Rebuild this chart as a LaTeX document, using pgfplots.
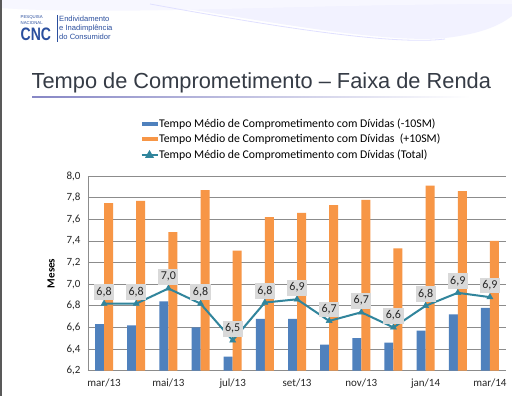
\documentclass[border=0pt]{standalone}
\usepackage{pgfplots}
\pgfplotsset{compat=1.18}
\usepackage{fontspec}
\setmainfont{Carlito}
\newfontfamily\arial{Liberation Sans}
\definecolor{cblue}{HTML}{4F81BD}
\definecolor{corange}{HTML}{F79646}
\definecolor{cteal}{HTML}{31859C}
\definecolor{cgrid}{HTML}{8C8C8C}
\definecolor{lblgray}{HTML}{D9D9D9}
\definecolor{logoblue}{HTML}{2B4F9E}
\definecolor{titlegray}{HTML}{353B45}
\begin{document}
\begin{tikzpicture}[x=1pt,y=1pt]
\path[use as bounding box] (0,0) rectangle (512,396);
\fill[white] (0,0) rectangle (512,396);
% header swoosh
\fill[blue!5!white] (130,396) .. controls (250,378) and (380,352) .. (445,358) .. controls (490,363) and (505,375) .. (512,380) -- (512,396) -- cycle;
\fill[blue!3!white] (0,396) -- (0,388) .. controls (120,380) and (300,392) .. (512,392) -- (512,396) -- cycle;
\draw[blue!12!white, line width=0.8] (150,392) .. controls (260,372) and (390,350) .. (445,357);
% left border
\draw[black!65, line width=1.5] (0.75,0) -- (0.75,396);
% logo
\node[anchor=base west, inner sep=0, font=\arial\fontsize{4.3}{5}\selectfont, text=logoblue] at (20.5,396-18.5) {PESQUISA};
\node[anchor=base west, inner sep=0, font=\arial\fontsize{4.3}{5}\selectfont, text=logoblue] at (20.5,396-25) {NACIONAL};
\node[anchor=base west, inner sep=0, font=\arial\bfseries\fontsize{18}{18}\selectfont, text=logoblue, xscale=0.78, transform shape] at (20.5,396-40.5) {CNC};
\draw[logoblue, line width=0.6] (57,396-15) -- (57,396-42);
\node[anchor=base west, inner sep=0, font=\arial\fontsize{7.6}{9}\selectfont, text=logoblue] at (59,396-21.5) {Endividamento};
\node[anchor=base west, inner sep=0, font=\arial\fontsize{7.6}{9}\selectfont, text=logoblue] at (59,396-30.5) {e Inadimplência};
\node[anchor=base west, inner sep=0, font=\arial\fontsize{7.6}{9}\selectfont, text=logoblue] at (59,396-39.5) {do Consumidor};
% title
\node[anchor=base west, inner sep=0, font=\arial\fontsize{21.8}{24}\selectfont, text=titlegray] at (31.5,396-88.3) {Tempo de Comprometimento – Faixa de Renda};
\shade[left color=blue!35!gray!70, right color=white] (32,396-97.8) rectangle (470,396-96.8);
\begin{axis}[
  at={(88pt,25.3pt)}, anchor=south west,
  scale only axis, width=418pt, height=194.7pt,
  xmin=-0.5, xmax=12.5, ymin=6.2, ymax=8.0,
  ytick={6.2,6.4,6.6,6.8,7.0,7.2,7.4,7.6,7.8,8.0},
  xtick={0,2,4,6,8,10,12},
  xticklabels={mar/13,mai/13,jul/13,set/13,nov/13,jan/14,mar/14},
  /pgf/number format/assume math mode=true,
  yticklabel style={/pgf/number format/use comma, /pgf/number format/fixed, /pgf/number format/fixed zerofill, /pgf/number format/precision=1, xshift=-4pt},
  ticklabel style={font=\fontsize{11}{13}\selectfont, text=black!85},
  xticklabel style={yshift=-5pt},
  major tick length=0pt,
  ymajorgrids, grid style={cgrid, line width=0.6},
  axis lines*=left, axis line style={-, cgrid, line width=0.6},
  ylabel={\textbf{Meses}}, ylabel style={font=\fontsize{11}{13}\selectfont, yshift=5pt},
  legend style={draw=none, fill=none, at={(0.118,1.31)}, anchor=north west,
    font=\fontsize{11.8}{13}\selectfont, row sep=4.5pt, nodes={inner sep=0.6pt}},
  legend cell align=left,
  clip=false,
]
\addplot[ybar, bar width=9pt, bar shift=-4.5pt, fill=cblue, draw=none,
  legend image code/.code={\fill[cblue] (0pt,-2pt) rectangle (16pt,2pt);}]
  coordinates {(0,6.63) (1,6.62) (2,6.84) (3,6.60) (4,6.33) (5,6.68) (6,6.68) (7,6.44) (8,6.50) (9,6.46) (10,6.57) (11,6.72) (12,6.78)};
\addlegendentry{Tempo Médio de Comprometimento com Dívidas (-10SM)}
\addplot[ybar, bar width=9pt, bar shift=4.5pt, fill=corange, draw=none,
  legend image code/.code={\fill[corange] (0pt,-2pt) rectangle (16pt,2pt);}]
  coordinates {(0,7.75) (1,7.77) (2,7.48) (3,7.87) (4,7.31) (5,7.62) (6,7.66) (7,7.73) (8,7.78) (9,7.33) (10,7.91) (11,7.86) (12,7.40)};
\addlegendentry{Tempo Médio de Comprometimento com Dívidas~ (+10SM)}
\addplot[cteal, line width=2pt, sharp plot, mark=triangle*, mark size=3.5pt, mark options={fill=cteal, line width=0.5pt},
  nodes near coords, point meta=explicit symbolic,
  every node near coord/.style={fill=lblgray, text=black!85, font=\fontsize{12}{13}\selectfont, inner xsep=2.5pt, inner ysep=2.8pt, text height=8pt, text depth=2pt, anchor=south, yshift=3.5pt},
  legend image code/.code={\draw[cteal, line width=2pt] (0pt,0pt) -- (16pt,0pt); \fill[cteal] (8pt,0pt) +(90:3.2pt) -- +(210:3.2pt) -- +(330:3.2pt) -- cycle;}]
  table[x=x, y=y, meta=l] {
x y l
0 6.82 6,8
1 6.82 6,8
2 6.96 7,0
3 6.82 6,8
4 6.48 6,5
5 6.83 6,8
6 6.86 6,9
7 6.66 6,7
8 6.74 6,7
9 6.60 6,6
10 6.80 6,8
11 6.92 6,9
12 6.88 6,9
};
\addlegendentry{Tempo Médio de Comprometimento com Dívidas (Total)}
\end{axis}
\end{tikzpicture}
\end{document}
